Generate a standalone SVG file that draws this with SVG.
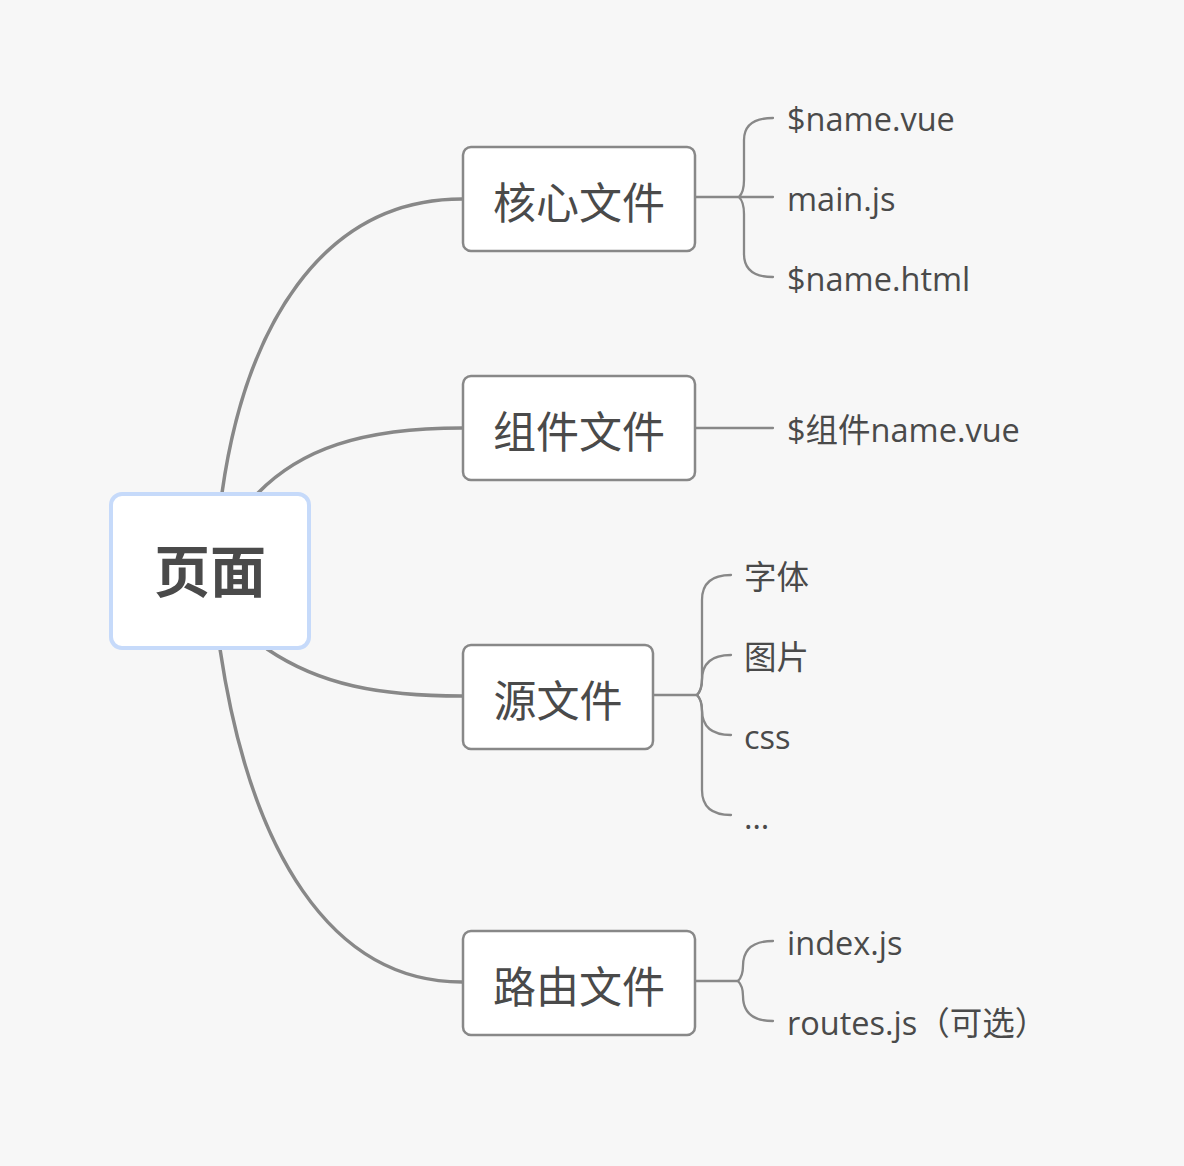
<svg xmlns="http://www.w3.org/2000/svg" width="1184" height="1166" viewBox="0 0 1184 1166">
<style>
.bg{fill:#f7f7f7}
.main{fill:none;stroke:#888888;stroke-width:3.5;stroke-linecap:round}
.sub{fill:none;stroke:#888888;stroke-width:2.3;stroke-linecap:round}
.box{fill:#ffffff;stroke:#888888;stroke-width:2.5}
.root{fill:#ffffff;stroke:#c6dafa;stroke-width:4}
.t{fill:#4a4a4a;font-family:"Open Sans","Noto Sans","Noto Sans CJK SC",sans-serif}
.rt{font-size:56px;font-weight:bold;text-anchor:middle}
.bt{font-size:43px;text-anchor:middle}
.lt{font-size:32.5px}
</style>
<rect class="bg" x="0" y="0" width="1184" height="1166"/>
<g id="connectors">
<path class="main" d="M222,493 C245,330 320,199 462,199"/>
<path class="main" d="M258,493 C300,450 360,428 462,428"/>
<path class="main" d="M267,649 C320,685 380,696 462,696"/>
<path class="main" d="M220,649 C250,850 330,982 462,982"/>
<path class="sub" d="M695,197 H773"/>
<path class="sub" d="M739,197 Q744,192 744,180 L744,140 Q744,118 773,118"/>
<path class="sub" d="M739,197 Q744,202 744,214 L744,254 Q744,277 773,277"/>
<path class="sub" d="M695,428 H773"/>
<path class="sub" d="M653,695 H697"/>
<path class="sub" d="M697,695 Q702,690 702,678 L702,600 Q702,575 731,575"/>
<path class="sub" d="M697,695 Q702,690 702,680 Q702,655 731,655"/>
<path class="sub" d="M697,695 Q702,700 702,710 Q702,735 731,735"/>
<path class="sub" d="M697,695 Q702,700 702,712 L702,790 Q702,815 731,815"/>
<path class="sub" d="M695,981 H738"/>
<path class="sub" d="M738,981 Q743,976 743,966 Q743,941 773,941"/>
<path class="sub" d="M738,981 Q743,986 743,996 Q743,1021 773,1021"/>
</g>
<g id="root">
<rect class="root" x="111" y="494" width="198" height="154" rx="11"/>
<text class="t rt" x="210" y="592">页面</text>
</g>
<g id="core">
<rect class="box" x="463" y="147" width="232" height="104" rx="8"/>
<text class="t bt" x="579" y="219">核心文件</text>
</g>
<g id="component">
<rect class="box" x="463" y="376" width="232" height="104" rx="8"/>
<text class="t bt" x="579" y="448">组件文件</text>
</g>
<g id="source">
<rect class="box" x="463" y="645" width="190" height="104" rx="8"/>
<text class="t bt" x="558" y="717">源文件</text>
</g>
<g id="router">
<rect class="box" x="463" y="931" width="232" height="104" rx="8"/>
<text class="t bt" x="579" y="1003">路由文件</text>
</g>
<g id="core-children">
<text class="t lt" x="787" y="131">$name.vue</text>
<text class="t lt" x="787" y="211">main.js</text>
<text class="t lt" x="787" y="291">$name.html</text>
</g>
<g id="component-children">
<text class="t lt" x="787" y="442">$组件name.vue</text>
</g>
<g id="source-children">
<text class="t lt" x="744" y="589">字体</text>
<text class="t lt" x="744" y="669">图片</text>
<text class="t lt" x="744" y="749">css</text>
<text class="t lt" x="744" y="829">…</text>
</g>
<g id="router-children">
<text class="t lt" x="787" y="955">index.js</text>
<text class="t lt" x="787" y="1035">routes.js（可选）</text>
</g>
</svg>
